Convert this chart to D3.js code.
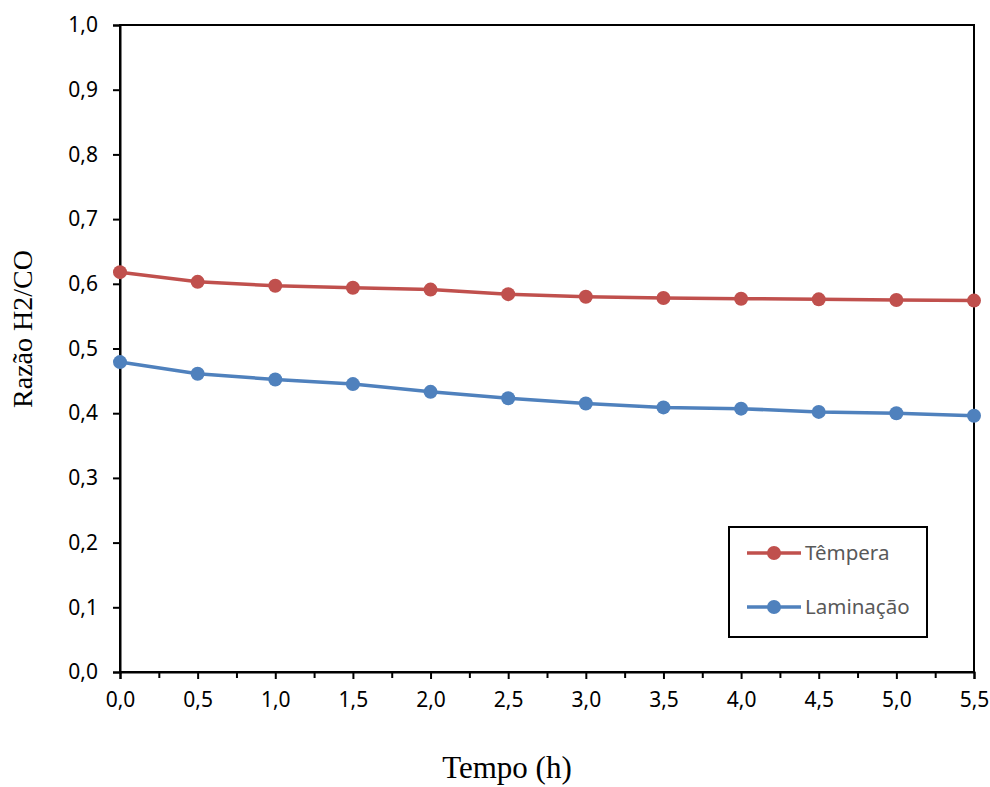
<!DOCTYPE html>
<html>
<head>
<meta charset="utf-8">
<script src="https://cdn.jsdelivr.net/npm/d3@7"></script>
<style>
  body { margin: 0; background: #fff; }
</style>
</head>
<body>
<svg width="990" height="787"></svg>
<script>
var times = [0, 0.5, 1.0, 1.5, 2.0, 2.5, 3.0, 3.5, 4.0, 4.5, 5.0, 5.5];
var tempera = [0.618, 0.603, 0.597, 0.594, 0.591, 0.584, 0.580, 0.578, 0.577, 0.576, 0.575, 0.574];
var laminacao = [0.479, 0.461, 0.452, 0.445, 0.433, 0.423, 0.415, 0.409, 0.407, 0.402, 0.400, 0.396];
var seriesNames = ["Têmpera", "Laminação"];
var seriesColors = ["#C0504D", "#4F81BD"];
var xTicks = [0, 0.5, 1, 1.5, 2, 2.5, 3, 3.5, 4, 4.5, 5, 5.5];
var xMinorTicks = [0.25, 0.75, 1.25, 1.75, 2.25, 2.75, 3.25, 3.75, 4.25, 4.75, 5.25];
var yTicks = [0, 0.1, 0.2, 0.3, 0.4, 0.5, 0.6, 0.7, 0.8, 0.9, 1.0];

var svg = d3.select("svg"),
    margin = {top: 25, right: 16, bottom: 115, left: 120},
    width = +svg.attr("width") - margin.left - margin.right,
    height = +svg.attr("height") - margin.top - margin.bottom;

var fmt = function (d) { return d3.format(".1f")(d).replace(".", ","); };

var x = d3.scaleLinear().domain([0, 5.5]).range([0, width]);
var y = d3.scaleLinear().domain([0, 1]).range([height, 0]);

var g = svg.append("g")
    .attr("transform", "translate(" + margin.left + "," + margin.top + ")");

// plot area border
g.append("rect")
    .attr("width", width).attr("height", height)
    .attr("fill", "none").attr("stroke", "#000").attr("stroke-width", 2);

// minor ticks on x
g.append("g")
    .attr("transform", "translate(0," + height + ")")
    .call(d3.axisBottom(x).tickValues(xMinorTicks).tickSize(6).tickFormat(""))
    .call(function (a) { a.select(".domain").remove(); a.selectAll("line").attr("stroke-width", 2); });

var xAxis = g.append("g")
    .attr("transform", "translate(0," + height + ")")
    .call(d3.axisBottom(x).tickValues(xTicks).tickSize(7).tickPadding(13).tickFormat(fmt));

var yAxis = g.append("g")
    .call(d3.axisLeft(y).tickValues(yTicks).tickSize(7).tickPadding(15).tickFormat(fmt));

[xAxis, yAxis].forEach(function (a) {
    a.select(".domain").attr("stroke-width", 2);
    a.selectAll(".tick line").attr("stroke-width", 2);
    a.selectAll(".tick text")
        .style("font-family", "'Noto Sans', sans-serif")
        .style("font-size", "21px")
        .attr("fill", "#000");
});

// series
var line = d3.line()
    .x(function (d, i) { return x(times[i]); })
    .y(function (d) { return y(d); });

[tempera, laminacao].forEach(function (vals, s) {
    g.append("path")
        .datum(vals)
        .attr("fill", "none")
        .attr("stroke", seriesColors[s])
        .attr("stroke-width", 3.5)
        .attr("d", line);
    g.selectAll(".pt" + s)
        .data(vals)
        .enter().append("circle")
        .attr("class", "pt" + s)
        .attr("cx", function (d, i) { return x(times[i]); })
        .attr("cy", function (d) { return y(d); })
        .attr("r", 7)
        .attr("fill", seriesColors[s]);
});

// legend
var legend = svg.append("g").attr("transform", "translate(729,527)");
legend.append("rect")
    .attr("width", 198).attr("height", 110)
    .attr("fill", "#fff").attr("stroke", "#000").attr("stroke-width", 2);
seriesNames.forEach(function (name, s) {
    var ly = 26 + s * 54;
    legend.append("line")
        .attr("x1", 18).attr("x2", 72).attr("y1", ly).attr("y2", ly)
        .attr("stroke", seriesColors[s]).attr("stroke-width", 3.5);
    legend.append("circle")
        .attr("cx", 45).attr("cy", ly).attr("r", 7).attr("fill", seriesColors[s]);
    legend.append("text")
        .attr("x", 76).attr("y", ly).attr("dy", "0.35em")
        .style("font-family", "'Noto Sans', sans-serif")
        .style("font-size", "20.5px")
        .attr("fill", "#595959")
        .text(name);
});

// axis titles
svg.append("text")
    .attr("x", 507)
    .attr("y", 778)
    .attr("text-anchor", "middle")
    .style("font-family", "'Liberation Serif', serif")
    .style("font-size", "31px")
    .text("Tempo (h)");

svg.append("text")
    .attr("transform", "translate(32,329) rotate(-90)")
    .attr("text-anchor", "middle")
    .style("font-family", "'Liberation Serif', serif")
    .style("font-size", "28px")
    .text("Razão H2/CO");
</script>
</body>
</html>
